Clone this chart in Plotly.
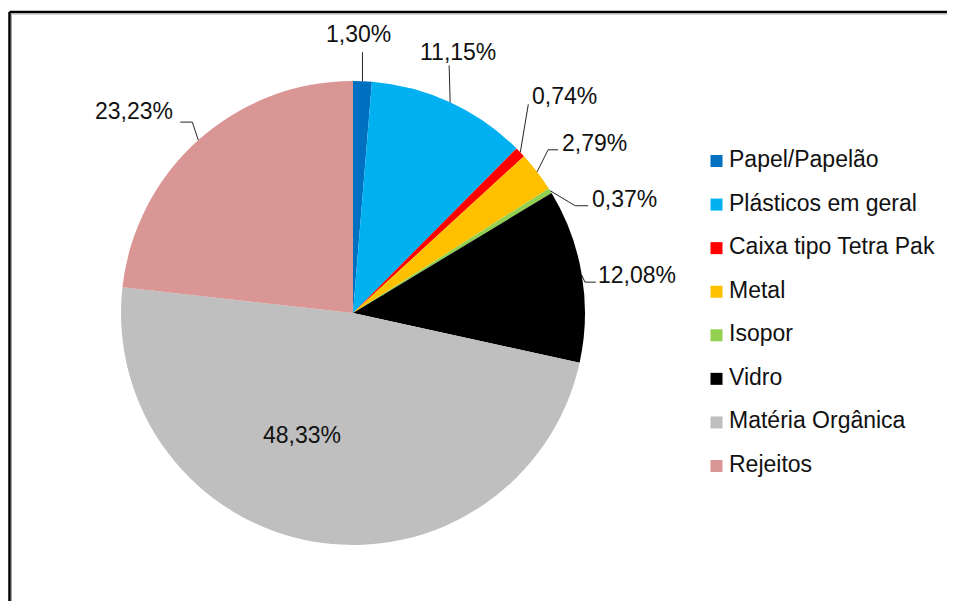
import math
import plotly.graph_objects as go

# ---- data ----
categories = ["Papel/Papelão", "Plásticos em geral", "Caixa tipo Tetra Pak", "Metal",
              "Isopor", "Vidro", "Matéria Orgânica", "Rejeitos"]
values = [1.30, 11.15, 0.74, 2.79, 0.37, 12.08, 48.33, 23.23]
colors = ["#0070C0", "#00B0F0", "#FF0000", "#FFC000", "#92D050", "#000000", "#BFBFBF", "#D99694"]

# ---- layout constants (page coordinates; the page body has an 8px margin all round) ----
OFF = 8
W, H = 955 - 2 * OFF, 609 - 2 * OFF
CX, CY, R = 353, 313, 232
FONT = "Liberation Sans, Arial, sans-serif"

# label text-centre offsets (px) from each slice's outer mid-point, and leader polylines
label_offsets = [(-4, -47), (8, -50.5), (44, -56), (57, -29), (74.5, 8), (55, -0.5), (-13.4, -107), (-64, -29)]
leaders = [[(0, 0), (0, -29)], [(0, 0), (-1, -37)], [(0, 0), (8, -48)],
           [(0, 0), (11, -22), (21, -22)], [(0, 0), (25, 15), (38, 15)],
           [(0, 0), (3, 7), (14, 7)], None, [(0, 0), (-6, -18), (-18, -18)]]

# legend placement
LEG_X, LEG_Y0, LEG_DY, SW = 716.5, 161, 43.57, 12


def px(x):
    return (x - OFF) / W


def py(y):
    return 1 - (y - OFF) / H


fig = go.Figure(go.Pie(
    labels=categories,
    values=values,
    sort=False,
    direction="clockwise",
    rotation=0,
    marker=dict(colors=colors, line=dict(width=0)),
    textinfo="none",
    hoverinfo="label+percent",
    showlegend=False,
    domain=dict(x=[px(CX - R), px(CX + R)], y=[py(CY + R), py(CY - R)]),
))

total = sum(values)
cum = 0.0
annotations = []
shapes = []
for i, v in enumerate(values):
    mid = (cum + v / 2) / total
    cum += v
    th = 2 * math.pi * mid
    tx = CX + R * math.sin(th)
    ty = CY - R * math.cos(th)
    dx, dy = label_offsets[i]
    txt = f"{v:.2f}".replace(".", ",") + "%"
    annotations.append(dict(
        x=px(tx + dx), y=py(ty + dy), xref="paper", yref="paper",
        text=txt, showarrow=False, xanchor="center", yanchor="middle",
        font=dict(family=FONT, size=23, color="#111111"),
    ))
    if leaders[i]:
        pts = leaders[i]
        d = "M " + " L ".join(f"{px(tx + a):.5f},{py(ty + b):.5f}" for a, b in pts)
        shapes.append(dict(type="path", path=d, xref="paper", yref="paper",
                           line=dict(color="#262626", width=1)))

# legend (swatch + label per category)
for i, (c, col) in enumerate(zip(categories, colors)):
    yc = LEG_Y0 + i * LEG_DY
    shapes.append(dict(type="rect", xref="paper", yref="paper",
                       x0=px(LEG_X - SW / 2), x1=px(LEG_X + SW / 2),
                       y0=py(yc + SW / 2), y1=py(yc - SW / 2),
                       fillcolor=col, line=dict(width=0)))
    annotations.append(dict(
        x=px(LEG_X + 10.5), y=py(yc - 2), xref="paper", yref="paper",
        text=c, showarrow=False, xanchor="left", yanchor="middle",
        font=dict(family=FONT, size=23, color="#111111"),
    ))

# chart frame (top and left edges visible)
frame = [
    (9.5, OFF + H, 9.5, 12, "#000000", 2.5),
    (9.5, 12, OFF + W, 12, "#000000", 2.5),
    (11.5, OFF + H, 11.5, 14, "#A6A6A6", 1),
    (11.5, 14, OFF + W, 14, "#A6A6A6", 1),
]
for x0, y0, x1, y1, c, w in frame:
    shapes.append(dict(type="line", xref="paper", yref="paper",
                       x0=px(x0), y0=py(y0), x1=px(x1), y1=py(y1),
                       line=dict(color=c, width=w)))

fig.update_layout(
    width=W, height=H,
    margin=dict(l=0, r=0, t=0, b=0),
    paper_bgcolor="white",
    font=dict(family=FONT, color="#111111"),
    showlegend=False,
    annotations=annotations,
    shapes=shapes,
)

fig.write_html("out.html", config={"displayModeBar": False})
